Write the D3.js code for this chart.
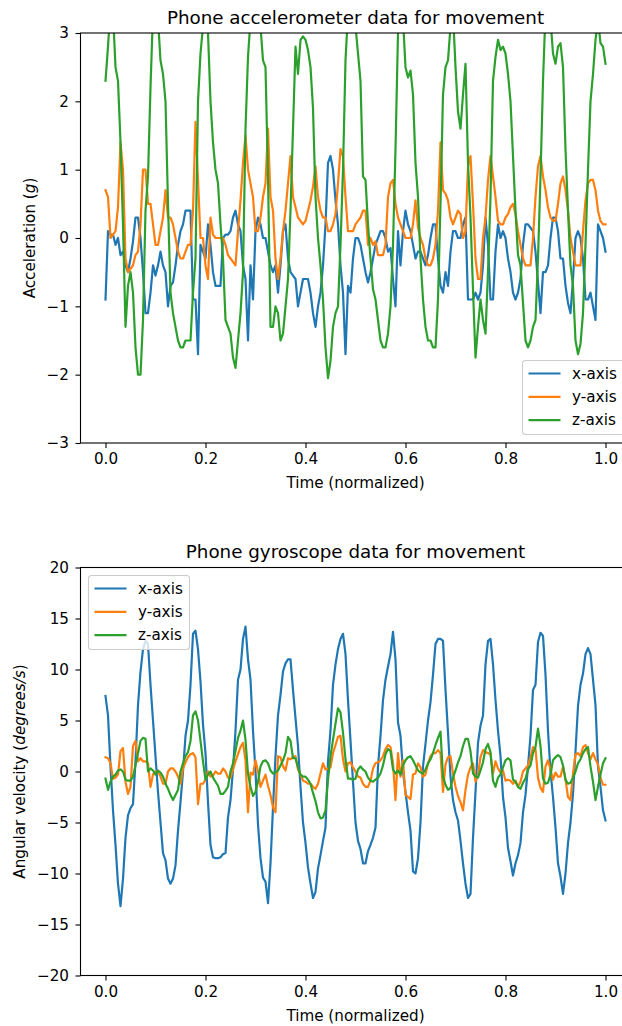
<!DOCTYPE html>
<html>
<head>
<meta charset="utf-8">
<script src="https://cdn.jsdelivr.net/npm/d3@7"></script>
<style>
  body { margin: 0; background: #fff; }
  text { font-family: "DejaVu Sans", sans-serif; fill: #000; }
</style>
</head>
<body>
<div id="chart"></div>
<script>
// accelerometer (g)
const accX = [
  -0.9, 0.1, 0.05, 0.05, -0.1, 0.0, -0.25, -0.2, -0.4, -0.5,
  -0.3, -0.05, 0.3, 0.3, 0.0, -0.5, -1.1, -1.1, -0.8, -0.4,
  -0.55, -0.4, -0.2, -0.4, -0.5, -1.0, -0.7, -0.65, -0.4, -0.1,
  0.1, 0.2, 0.4, 0.4, 0.4, -0.9, -0.9, -1.7, -0.1, -0.2,
  -0.3, 0.2, -0.1, -0.5, -0.7, -0.7, -0.7, 0.0, 0.05, 0.05,
  0.1, 0.3, 0.4, 0.2, 0.1, -0.4, -0.6, -1.5, -0.4, -0.9,
  0.1, 0.3, 0.2, 0.0, 0.0, -0.2, -0.4, -0.5, -0.4, -0.8,
  -0.4, 0.1, 0.2, -0.3, -0.5, -0.55, -0.6, -1.0, -0.8, -0.6,
  -0.6, -0.6, -0.8, -1.1, -1.3, -1.0, -0.8, -0.4, 0.2, 1.1,
  1.2, 1.0, 0.55, 0.2, -0.4, -0.8, -1.7, -0.7, -0.8, -0.3,
  0.0, 0.0, -0.1, -0.3, -0.5, -0.65, -0.5, -0.3, -0.1, 0.0,
  0.1, 0.1, 0.0, -0.2, -0.15, -0.6, -1.0, 0.1, -0.4, 0.1,
  0.4, 0.2, 0.1, -0.1, -0.3, -0.2, -0.2, -0.3, -0.4, -0.25,
  0.0, 0.2, 0.2, -0.3, -0.7, -0.8, -0.5, -0.7, -0.2, 0.1,
  0.1, 0.0, 0.0, 0.2, 0.3, -0.9, -0.9, -0.9, -0.8, -0.9,
  -0.8, -0.4, 0.3, -0.1, -0.9, -0.9, -0.2, 0.2, 0.0, 0.1,
  0.0, -0.3, -0.5, -0.8, -0.9, -0.8, -0.6, -0.1, 0.2, 0.2,
  0.15, 0.1, -0.2, -0.65, -1.1, -0.5, -0.5, -0.4, 0.0, 0.3,
  0.3, 0.1, -0.3, -0.3, -0.7, -0.95, -1.1, -0.6, 0.0, 0.1,
  0.0, -0.3, -0.9, -0.9, -0.8, -1.0, -1.2, 0.2, 0.1, 0.0,
  -0.2
];
const accY = [
  0.7, 0.6, 0.0, 0.05, 0.1, 0.45, 1.4, 1.0, -0.3, -0.5,
  -0.45, -0.4, -0.25, -0.2, 0.2, 1.0, 1.0, 0.5, 0.5, 0.2,
  -0.1, -0.1, 0.1, 0.3, 0.7, 0.3, 0.3, 0.2, 0.0, -0.2,
  -0.3, -0.3, -0.2, -0.1, -0.1, 0.4, 1.7, 0.85, 0.0, 0.0,
  -0.4, -0.6, 0.3, 0.05, 0.0, 0.0, 0.0, 0.0, -0.1, -0.25,
  -0.3, -0.35, -0.4, 0.1, 0.55, 1.1, 1.5, 1.0, 0.8, 0.6,
  0.1, 0.1, 0.3, 0.6, 0.8, 1.6, 0.6, 0.4, -0.3, -0.6,
  -0.3, 0.1, 0.4, 0.8, 1.2, 0.6, 0.45, 0.3, 0.25, 0.2,
  0.25, 0.4, 0.55, 0.75, 1.05, 0.6, 0.4, 0.3, 0.3, 0.1,
  0.1, 0.2, 0.35, 0.8, 1.3, 1.2, 0.6, 0.1, 0.1, 0.1,
  0.2, 0.25, 0.3, 0.4, 0.4, -0.1, 0.0, -0.1, -0.05, -0.25,
  -0.25, -0.25, -0.1, 0.6, 0.8, 0.85, 0.5, 0.3, 0.2, 0.1,
  0.0, 0.0, 0.0, 0.2, 0.55, 0.15, 0.0, -0.1, -0.3, -0.4,
  -0.4, -0.3, -0.1, 0.4, 1.4, 0.7, 0.65, 0.55, 0.3, 0.2,
  0.3, 0.4, 0.35, 0.0, 0.1, 1.05, 1.2, 0.5, -0.3, -0.6,
  -0.6, 0.0, 0.3, 0.85, 1.2, 0.9, 0.6, 0.25, 0.2, 0.2,
  0.3, 0.35, 0.45, 0.5, 0.35, 0.1, -0.1, -0.3, -0.4, -0.4,
  -0.4, 0.0, 0.6, 1.05, 1.2, 0.9, 0.7, 0.45, 0.3, 0.25,
  0.25, 0.5, 0.8, 0.9, 0.7, 0.4, 0.0, -0.2, -0.4, -0.4,
  -0.4, 0.1, 0.55, 0.8, 0.85, 0.85, 0.7, 0.4, 0.25, 0.2,
  0.2
];
const accZ = [
  2.3, 2.8, 3.4, 3.3, 2.5, 2.3, 1.4, 0.2, -1.3, -0.7,
  -0.5, -0.8, -1.6, -2.0, -2.0, -1.2, 0.4, 0.9, 2.2, 3.3,
  3.5, 3.2, 2.6, 2.4, 2.0, 0.5, -0.8, -1.1, -1.3, -1.5,
  -1.6, -1.6, -1.5, -1.5, -1.5, -0.8, -0.3, 2.0, 2.7, 3.1,
  3.2, 3.0, 2.0, 1.4, 1.0, 0.8, 0.2, -0.3, -1.2, -1.3,
  -1.4, -1.75, -1.9, -1.5, -1.1, -0.5, 1.6, 2.65, 3.2, 3.5,
  3.6, 3.4, 3.1, 2.6, 2.5, 0.9, -1.3, -1.3, -1.0, -1.1,
  -1.5, -1.4, -1.0, -0.6, 0.4, 1.6, 2.8, 2.4, 2.9, 2.95,
  2.9, 2.75, 2.5, 1.9, 0.6, 0.0, -0.4, -0.9, -1.6, -2.05,
  -1.8, -1.3, -1.1, -1.0, -0.1, 1.0, 2.6, 3.3, 3.4, 3.3,
  3.1, 2.7, 2.3, 0.9, 0.85, 0.2, -0.3, -0.75, -0.9, -1.2,
  -1.5, -1.6, -1.6, -1.4, -1.0, -0.1, 1.3, 3.0, 3.4, 3.2,
  2.5, 2.35, 2.45, 2.1, 1.1, 0.6, -0.3, -0.9, -1.3, -1.5,
  -1.5, -1.6, -1.6, -0.9, 0.5, 2.1, 2.5, 2.6, 3.1, 3.3,
  2.5, 1.85, 1.6, 2.1, 2.55, 1.1, 0.3, -0.75, -1.75, -1.3,
  -0.9, -1.2, -1.4, -0.5, 0.6, 2.3, 2.65, 2.9, 2.75, 2.8,
  2.7, 2.4, 2.0, 1.2, 0.4, -0.25, -0.4, -0.95, -1.5, -1.6,
  -1.5, -1.3, -1.2, -0.3, 0.9, 2.3, 3.3, 3.5, 3.2, 2.7,
  2.55, 2.8, 2.85, 2.5, 1.3, 0.4, -0.4, -0.7, -1.5, -1.7,
  -1.55, -1.1, -0.1, 1.0, 2.0, 2.4, 2.9, 3.2, 2.85, 2.8,
  2.55
];

// gyroscope (degrees/s)
const gyroX = [
  7.4, 5.5, 0.5, -3.8, -7.2, -11.0, -13.2, -10.5, -6.5, -4.3,
  -3.6, -3.2, 1.0, 6.5, 9.8, 12.0, 12.8, 12.5, 8.5, 5.0,
  1.5, -2.0, -5.0, -8.0, -8.7, -10.5, -11.0, -10.5, -9.2, -5.8,
  -3.0, 0.0, 3.5, 5.0, 8.5, 13.5, 13.8, 12.0, 8.8, 4.6,
  1.8, -3.0, -7.2, -8.4, -8.5, -8.5, -8.4, -8.1, -8.0, -4.5,
  -2.8, 0.2, 4.0, 9.0, 10.0, 13.0, 14.2, 11.0, 9.0, 4.0,
  0.0, -5.2, -8.5, -10.4, -10.8, -12.9, -9.0, -3.5, 1.5, 5.5,
  7.5, 9.8, 10.6, 11.0, 11.0, 8.0, 5.2, 2.5, -1.5, -5.0,
  -7.0, -9.4, -11.0, -12.4, -11.8, -9.5, -8.2, -6.8, -5.5, 1.0,
  4.0, 8.5, 10.5, 12.0, 13.0, 13.5, 11.5, 7.0, 3.0, -1.0,
  -5.0, -6.8, -7.6, -9.0, -9.0, -7.8, -7.2, -6.5, -5.5, 0.5,
  3.5, 7.0, 9.0, 10.3, 11.5, 13.7, 11.0, 4.8, 3.5, 0.0,
  -2.0, -4.0, -5.8, -9.8, -10.0, -8.5, -5.0, 0.5, 2.7, 5.0,
  6.8, 9.5, 12.5, 13.0, 13.0, 12.8, 8.0, 3.8, -0.5, -2.8,
  -4.0, -4.8, -6.8, -9.0, -11.0, -12.4, -12.0, -6.5, -2.0, 2.8,
  4.5, 5.5, 10.5, 12.8, 13.0, 10.5, 7.0, 4.0, 1.5, -2.5,
  -4.5, -7.5, -8.8, -10.2, -9.0, -8.2, -7.0, -4.0, -2.3, 0.5,
  3.5, 8.0, 8.5, 12.7, 13.6, 13.3, 9.5, 4.0, 0.0, -2.5,
  -5.5, -9.0, -10.3, -12.0, -10.0, -7.0, -5.0, -2.2, 2.0, 6.4,
  8.5, 9.6, 11.5, 12.1, 11.5, 9.0, 6.5, 0.5, -1.5, -3.8,
  -4.8
];
const gyroY = [
  1.4, 1.3, 0.8, -0.7, -0.6, -0.3, 2.0, 2.3, -1.0, -2.2,
  -1.5, 2.5, 3.0, 1.0, 1.3, 1.0, 1.0, 0.8, -1.5, -0.3,
  0.0, 0.0, -0.5, -1.2, -1.2, 0.0, 0.3, 0.3, 0.0, -0.5,
  -1.2, 0.3, 0.9, 1.4, 1.7, 1.8, 1.4, -3.2, -1.2, -1.2,
  -0.8, 0.0, -0.5, -0.4, 0.0, -0.2, -0.2, 0.3, 0.0, -0.6,
  -0.6, 0.2, 1.0, 1.7, 2.4, 2.8, 1.1, -4.0, -0.1, -0.3,
  1.1, 0.0, -1.5, -0.9, -0.3, -1.4, -2.3, -3.5, -4.0, 1.5,
  1.4, 0.5, 0.1, 1.3, 1.2, 1.4, 1.5, 0.2, -0.3, -0.9,
  -1.0, -1.2, -1.2, -1.5, -1.7, -1.2, -0.2, 0.8, 0.2, 0.3,
  0.4, 1.8, 2.6, 3.4, 3.5, 1.2, 0.0, 0.8, 0.9, 0.4,
  0.0, -0.5, -0.6, -1.2, -1.5, -1.5, -0.9, 0.3, 0.8, 0.9,
  1.1, 1.5, 2.2, 2.6, 2.4, 0.8, -2.8, 1.8, -0.5, 1.1,
  -2.3, -2.5, -2.7, -0.3, -0.2, 0.8, 0.4, -0.5, -0.3, 0.8,
  1.5, 1.8, 1.8, 2.1, 1.8, -2.0, 0.7, 1.4, 1.5, -0.2,
  -1.5, -2.4, -3.0, -3.8, -1.8, -0.3, 0.4, 0.8, -1.0, -0.3,
  1.4, 2.1, 1.9, 1.8, 1.7, -0.2, 1.0, 0.3, -0.1, 0.1,
  -0.9, -0.8, -0.9, -1.2, -0.9, -1.5, -1.0, 0.0, 0.3, 0.6,
  1.4, 2.4, 2.2, -0.6, -1.6, -2.0, 0.5, 1.1, 0.2, -0.8,
  -0.1, -0.5, -0.5, 0.5, -0.8, -2.5, -2.8, -0.2, 1.7, 1.8,
  1.5, 2.4, 2.6, 1.8, 1.2, 1.8, 1.2, 0.7, -0.6, -1.3,
  -1.3
];
const gyroZ = [
  -0.7, -1.8, -1.0, -0.5, -0.3, 0.1, 0.2, 0.0, -0.8, -0.9,
  -0.9, -0.5, 0.6, 1.8, 3.0, 3.3, 3.2, 0.0, 0.3, 0.1,
  -0.3, 0.1, -0.1, -0.5, -1.2, -1.7, -2.3, -2.8, -2.3, -1.8,
  0.0, 0.8, 1.5, 1.9, 3.0, 5.5, 5.9, 5.0, 3.0, 1.0,
  -0.8, -0.3, 0.0, -0.6, -1.0, -1.4, -2.2, -2.2, -1.9, -1.5,
  0.0, 0.8, 2.0, 3.3, 4.0, 5.0, 3.1, -0.2, -1.5, -2.4,
  -2.0, -1.0, 0.5, 1.0, 1.1, 0.8, 0.1, -0.2, -0.1, 0.1,
  0.6, 1.1, 1.8, 3.4, 3.0, 1.3, 1.3, 0.4, -0.3, -0.5,
  -0.5, -0.8, -1.2, -2.1, -2.9, -4.0, -4.6, -4.5, -3.8, -0.8,
  1.5, 3.1, 4.7, 6.2, 5.8, 3.8, 1.2, -0.7, -0.7, -0.8,
  -0.7, 0.2, 0.5, 0.2, 0.0, -0.6, -0.9, -1.0, -0.8, -0.6,
  -0.2, 0.6, 1.7, 2.2, 2.0, 0.2, -0.2, 0.1, -0.3, 0.6,
  1.1, 1.4, 1.5, 1.1, 0.6, 0.1, -0.1, -0.2, 0.2, 0.8,
  1.2, 1.8, 2.6, 3.3, 3.9, -0.5, -1.3, -1.8, -1.6, -0.6,
  0.1, 0.9, 1.5, 2.5, 3.2, 3.2, 2.0, -0.2, -0.5, -0.6,
  0.1, 0.9, 2.2, 2.7, 1.9, -0.9, -1.5, -0.6, -0.3, 0.4,
  1.1, 1.3, 1.1, -0.8, -1.0, -1.5, -1.7, -1.1, -0.7, 0.2,
  0.6, 1.8, 2.4, 4.2, 2.5, -0.7, -1.2, -1.1, -0.3, 1.1,
  1.4, 1.6, 1.4, 0.6, -0.8, -1.2, -1.1, -0.6, 0.0, 0.8,
  1.2, 1.8, 2.2, 2.4, 0.5, -1.0, -2.8, -1.5, -0.3, 0.8,
  1.3
];

const seriesNames = ["x-axis", "y-axis", "z-axis"];
const colors = ["#1f77b4", "#ff7f0e", "#2ca02c"];
const timeTicks = [0.0, 0.2, 0.4, 0.6, 0.8, 1.0];
const accTicks = [-3, -2, -1, 0, 1, 2, 3];
const gyroTicks = [-20, -15, -10, -5, 0, 5, 10, 15, 20];

// normalized time for each sample
const timeNorm = accX.map((_, i) => i / (accX.length - 1));

const W = 622, H = 1026;
const FS = 15.2, FT = 18.3;
const svg = d3.select("#chart").append("svg")
  .attr("width", W).attr("height", H);

const left = 80.5, right = 630.5;
const x = d3.scaleLinear().domain([-0.05, 1.05]).range([left, right]);

function panel(cfg) {
  const y = d3.scaleLinear().domain(cfg.yDomain).range([cfg.bottom, cfg.top]);
  const g = svg.append("g");

  g.append("clipPath").attr("id", cfg.id)
    .append("rect")
    .attr("x", left).attr("y", cfg.top)
    .attr("width", right - left).attr("height", cfg.bottom - cfg.top);

  const line = d3.line().x((d, i) => x(timeNorm[i])).y(d => y(d));
  cfg.data.forEach((vals, k) => {
    g.append("path")
      .datum(vals)
      .attr("clip-path", `url(#${cfg.id})`)
      .attr("fill", "none")
      .attr("stroke", colors[k])
      .attr("stroke-width", 2.2)
      .attr("stroke-linejoin", "round")
      .attr("stroke-linecap", "square")
      .attr("d", line);
  });

  // axes
  const fmt = v => (v < 0 ? "\u2212" + Math.abs(v) : String(v));
  const xa = g.append("g")
    .attr("transform", `translate(0,${cfg.bottom})`)
    .call(d3.axisBottom(x).tickValues(timeTicks).tickFormat(d3.format(".1f"))
      .tickSize(5).tickPadding(5.5));
  const ya = g.append("g")
    .attr("transform", `translate(${left},0)`)
    .call(d3.axisLeft(y).tickValues(cfg.yTicks).tickFormat(fmt)
      .tickSize(5).tickPadding(6.5));
  [xa, ya].forEach(a => {
    a.selectAll("text").style("font-size", FS + "px").attr("fill", "#000");
    a.selectAll("line").attr("stroke", "#000").attr("stroke-width", 1.1);
    a.select(".domain").remove();
  });

  // spines
  g.append("rect")
    .attr("x", left).attr("y", cfg.top)
    .attr("width", right - left).attr("height", cfg.bottom - cfg.top)
    .attr("fill", "none").attr("stroke", "#000").attr("stroke-width", 1.1);

  g.append("text")
    .attr("x", (left + right) / 2).attr("y", cfg.top - 9.5)
    .attr("text-anchor", "middle").style("font-size", FT + "px")
    .text(cfg.title);

  g.append("text")
    .attr("x", (left + right) / 2).attr("y", cfg.bottom + 45)
    .attr("text-anchor", "middle").style("font-size", FS + "px")
    .text("Time (normalized)");

  const yl = g.append("text")
    .attr("transform", `translate(${cfg.yLabelX},${(cfg.top + cfg.bottom) / 2}) rotate(-90)`)
    .attr("text-anchor", "middle").style("font-size", FS + "px");
  yl.append("tspan").text(cfg.yLabel[0]);
  yl.append("tspan").style("font-style", "italic").text(cfg.yLabel[1]);
  yl.append("tspan").text(cfg.yLabel[2]);

  // legend
  const L = cfg.legend;
  const lg = g.append("g").attr("transform", `translate(${L.x},${L.y})`);
  lg.append("rect")
    .attr("width", L.w).attr("height", 74)
    .attr("rx", 3).attr("fill", "#fff").attr("fill-opacity", 0.8)
    .attr("stroke", "#cccccc").attr("stroke-width", 1.1);
  seriesNames.forEach((name, k) => {
    const ry = 13 + k * 23.3;
    lg.append("line")
      .attr("x1", 6).attr("x2", 38).attr("y1", ry).attr("y2", ry)
      .attr("stroke", colors[k]).attr("stroke-width", 2.2);
    lg.append("text")
      .attr("x", 49.5).attr("y", ry + 5.2)
      .style("font-size", FS + "px").text(name);
  });
}

panel({
  id: "clipAcc", top: 33, bottom: 443,
  yDomain: [-3, 3], yTicks: accTicks,
  data: [accX, accY, accZ],
  title: "Phone accelerometer data for movement",
  yLabel: ["Acceleration (", "g", ")"], yLabelX: 35,
  legend: { x: 522.5, y: 360.5, w: 110 }
});

panel({
  id: "clipGyro", top: 567.5, bottom: 975.5,
  yDomain: [-20, 20], yTicks: gyroTicks,
  data: [gyroX, gyroY, gyroZ],
  title: "Phone gyroscope data for movement",
  yLabel: ["Angular velocity (", "degrees/s", ")"], yLabelX: 25,
  legend: { x: 88.5, y: 575.5, w: 101 }
});
</script>
</body>
</html>
